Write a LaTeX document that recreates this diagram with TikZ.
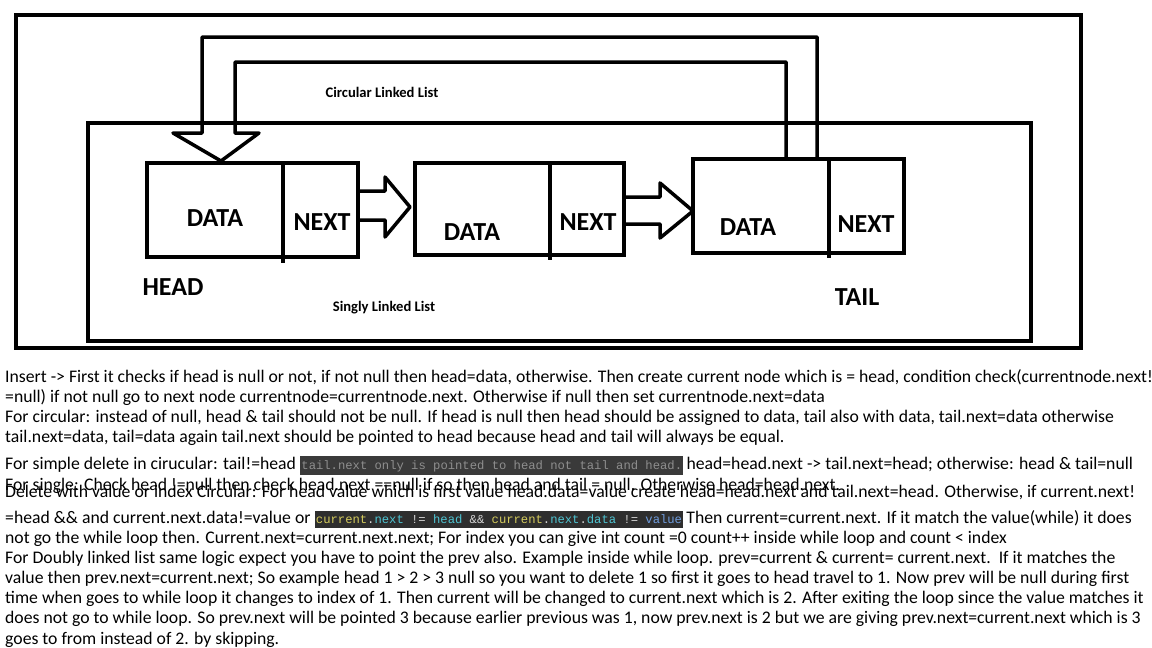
\documentclass[tikz,border=0pt]{standalone}
\usepackage{fontspec}
\setmainfont{Carlito}
\setmonofont{Liberation Mono}
\usetikzlibrary{calc}
\definecolor{codebg}{HTML}{3A3A3A}
\definecolor{codebgb}{HTML}{2E2E2E}
\definecolor{codegray}{HTML}{8E8E8E}
\definecolor{cyel}{HTML}{D4CB5C}
\definecolor{ccyan}{HTML}{4EC4D2}
\definecolor{cblue}{HTML}{6F9CDD}
\definecolor{cpun}{HTML}{D4D4D4}
\tikzset{cell/.style={draw=black,line width=4pt,inner sep=0pt}}
\tikzset{wire/.style={draw=black,line width=3.5pt,line join=round}}
\tikzset{lbl/.style={font=\bfseries\fontsize{26}{26}\selectfont,inner sep=0pt}}
\tikzset{listcap/.style={font=\bfseries\fontsize{14.6}{14.6}\selectfont,inner sep=0pt}}
\tikzset{txt/.style={font=\fontsize{17.7}{17.7}\selectfont,inner sep=0pt,anchor=base west}}
\tikzset{code/.style={font=\ttfamily\fontsize{12.2}{12.2}\selectfont,inner xsep=1pt,inner ysep=2pt,text height=11pt,text depth=4pt,anchor=base west}}

\begin{document}
\begin{tikzpicture}[x=1pt,y=-1pt]
\useasboundingbox (0,0) rectangle (1152,648);
% frames
\draw[line width=4pt] (16,15) rectangle (1081,348);
\draw[line width=4pt] (88,123) rectangle (1031,341);
\node[listcap] (circ) at (382,92) {Circular Linked List};
\node[listcap] (sing) at (384,308) {Singly Linked List};
% nodes of the list
\node[cell,minimum width=211pt,minimum height=94pt] (b1) at (252.5,210) {};
\node[cell,minimum width=209pt,minimum height=92pt] (b2) at (519.5,209) {};
\node[cell,minimum width=211pt,minimum height=94pt] (b3) at (798.5,206) {};
\draw[line width=4pt] (283,163) -- (283,263);
\draw[line width=4pt] (550,163) -- (550,260);
\draw[line width=4pt] (829,159) -- (829,258);
\node[lbl] (d1) at (215,218) {DATA};
\node[lbl] (n1) at (322,222) {NEXT};
\node[lbl] (d2) at (472,232) {DATA};
\node[lbl] (n2) at (588,222) {NEXT};
\node[lbl] (d3) at (748,227) {DATA};
\node[lbl] (n3) at (866,224) {NEXT};
\node[lbl] (head) at (173,287) {HEAD};
\node[lbl] (tail) at (857,297) {TAIL};
% next pointers
\draw[wire] ($(b1.east)+(0,-19)$) -- (385,191) -- (385,177) -- ($(b2.west)+(-3,-2)$)
  -- (385,237) -- (385,220) -- ($(b1.east)+(0,10)$);
\draw[wire] ($(b2.east)+(0,-12)$) -- (660,197) -- (660,183) -- ($(b3.west)+(2,5)$)
  -- (660,238) -- (660,224) -- ($(b2.east)+(0,15)$);
% tail back to head
\draw[wire] ($(b3.north)+(-12.5,0)$) |- (235,62) -- (235,133) -- (259,133)
  -- ($(b1.north)+(-31.5,0)$) -- (173,133) -- (202,133) -- (202,37)
  -| ($(b3.north)+(18.5,0)$);
% notes
\node[txt] (t1) at (5,382) {Insert -> First it checks if head is null or not, if not null then head=data, otherwise. Then create current node which is = head, condition check(currentnode.next!};
\node[txt] (t2) at (5,402) {=null) if not null go to next node currentnode=currentnode.next. Otherwise if null then set currentnode.next=data};
\node[txt] (t3) at (5,422) {For circular: instead of null, head \& tail should not be null. If head is null then head should be assigned to data, tail also with data, tail.next=data otherwise};
\node[txt] (t4) at (5,442) {tail.next=data, tail=data again tail.next should be pointed to head because head and tail will always be equal.};
\node[txt] (t5) at (5,469) {For simple delete in cirucular: tail!=head};
\node[code,fill=codebg,text=codegray] (c5) at ([xshift=4pt]t5.base east) {tail.next only is pointed to head not tail and head.};
\node[txt] (t5b) at ([xshift=3pt]c5.base east) {head=head.next -> tail.next=head; otherwise: head \& tail=null};
\node[txt] (t6) at (5,490) {For single: Check head !=null then check head.next ==null if so then head and tail = null. Otherwise head=head.next.};
\node[txt] (t7) at (5,497) {Delete with value or index Circular: For head value which is first value head.data=value create head=head.next and tail.next=head. Otherwise, if current.next!};
\node[txt] (t8) at (5,523) {=head \&\& and current.next.data!=value or};
\node[code,fill=codebgb,inner ysep=1pt] (c8) at ([xshift=4pt]t8.base east) {\color{cyel}current\color{cpun}.\color{ccyan}next \color{cpun}!= \color{ccyan}head \color{cpun}\&\& \color{cyel}current\color{cpun}.\color{ccyan}next\color{cpun}.\color{ccyan}data \color{cpun}!= \color{cblue}value};
\node[txt] (t8b) at ([xshift=3pt]c8.base east) {Then current=current.next. If it match the value(while) it does};
\node[txt] (t9) at (5,543) {not go the while loop then. Current.next=current.next.next; For index you can give int count =0 count++ inside while loop and count < index};
\node[txt] (t10) at (5,563) {For Doubly linked list same logic expect you have to point the prev also. Example inside while loop. prev=current \& current= current.next.\ \ If it matches the};
\node[txt] (t11) at (5,583) {value then prev.next=current.next; So example head 1 > 2 > 3 null so you want to delete 1 so first it goes to head travel to 1. Now prev will be null during first};
\node[txt] (t12) at (5,603) {time when goes to while loop it changes to index of 1. Then current will be changed to current.next which is 2. After exiting the loop since the value matches it};
\node[txt] (t13) at (5,623) {does not go to while loop. So prev.next will be pointed 3 because earlier previous was 1, now prev.next is 2 but we are giving prev.next=current.next which is 3};
\node[txt] (t14) at (5,644) {goes to from instead of 2. by skipping.};
\end{tikzpicture}
\end{document}
